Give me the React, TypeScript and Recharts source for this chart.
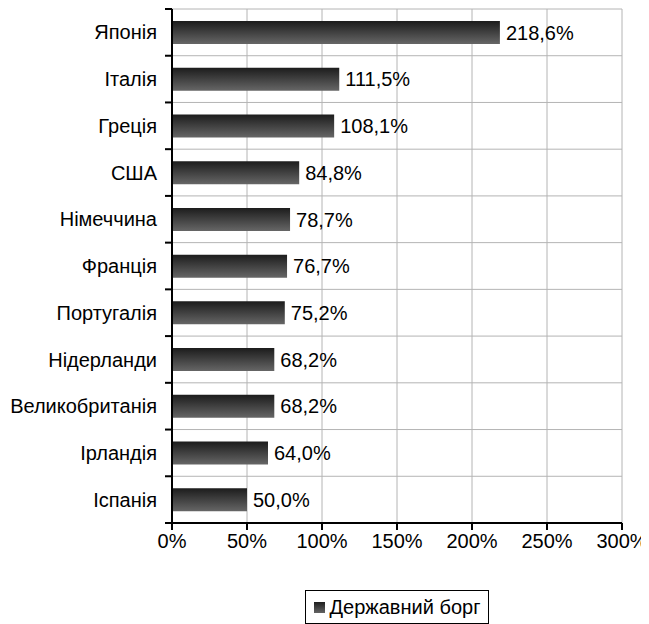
import React from 'react';
import { BarChart, Bar, XAxis, YAxis, CartesianGrid, LabelList, Legend } from 'recharts';

const countries = ['Японія', 'Італія', 'Греція', 'США', 'Німеччина', 'Франція', 'Португалія', 'Нідерланди', 'Великобританія', 'Ірландія', 'Іспанія'];
const debtValues = [218.6, 111.5, 108.1, 84.8, 78.7, 76.7, 75.2, 68.2, 68.2, 64.0, 50.0];
const xTicks = [0, 50, 100, 150, 200, 250, 300];
const seriesName = 'Державний борг';

const data = countries.map((c, i) => ({ country: c, debt: debtValues[i] }));

const FONT = '"Liberation Sans", Arial, sans-serif';
const fmt = (v: number) => v.toFixed(1).replace('.', ',') + '%';

const CHART_W = 641;
const CHART_H = 616;
const MARGIN = { top: 1, right: 27, bottom: 0, left: 0 };
const X_AXIS_H = 67;
const LEGEND_H = 34;
const PLOT_H = CHART_H - MARGIN.top - MARGIN.bottom - X_AXIS_H - LEGEND_H;
const BAND = PLOT_H / countries.length;
const Y_TICK_SIZE = 6;
const Y_TICK_MARGIN = 9;
const MARK_LEN = 7;

const gridPoints = [...countries, ''].map((_, i) => MARGIN.top + i * BAND);

const CategoryTick = (props: any) => {
  const { x, y, payload, index } = props;
  const axisX = x + Y_TICK_SIZE + Y_TICK_MARGIN;
  const last = index === countries.length - 1;
  return (
    <g>
      <text x={x} y={y} dy="0.355em" textAnchor="end" fill="#000" fontSize={20} fontFamily={FONT}>
        {payload.value}
      </text>
      <line x1={axisX - MARK_LEN} x2={axisX} y1={y - BAND / 2} y2={y - BAND / 2} stroke="#000" strokeWidth={2} />
      {last && (
        <line x1={axisX - MARK_LEN} x2={axisX} y1={y + BAND / 2} y2={y + BAND / 2} stroke="#000" strokeWidth={2} />
      )}
    </g>
  );
};

const LegendBox = () => (
  <div style={{ display: 'flex', justifyContent: 'center' }}>
    <div
      style={{
        border: '1px solid #000',
        height: LEGEND_H,
        display: 'flex',
        alignItems: 'center',
        padding: '0 8px 0 8px',
        fontFamily: FONT,
        fontSize: 20,
        color: '#000',
        background: '#fff',
        boxSizing: 'border-box',
      }}
    >
      <span
        style={{
          display: 'inline-block',
          width: 11,
          height: 11,
          background: 'linear-gradient(#1e1e1e, #646464)',
          marginRight: 5,
        }}
      />
      <span>{seriesName}</span>
    </div>
  </div>
);

export default function App() {
  return (
    <BarChart
      width={CHART_W}
      height={CHART_H}
      data={data}
      layout="vertical"
      margin={MARGIN}
      style={{ fontFamily: FONT }}
    >
      <defs>
        <linearGradient id="barGrad" x1="0" y1="0" x2="0" y2="1">
          <stop offset="0%" stopColor="#1c1c1c" />
          <stop offset="100%" stopColor="#666666" />
        </linearGradient>
      </defs>
      <CartesianGrid stroke="#b4b4b4" strokeWidth={1} horizontalPoints={gridPoints} />
      <XAxis
        type="number"
        domain={[0, 300]}
        ticks={xTicks}
        tickFormatter={(v: number) => `${v}%`}
        height={X_AXIS_H}
        tickSize={7}
        tickMargin={4}
        axisLine={{ stroke: '#000', strokeWidth: 2 }}
        tickLine={{ stroke: '#000', strokeWidth: 2 }}
        tick={{ fill: '#000', fontSize: 20, fontFamily: FONT }}
        interval={0}
      />
      <YAxis
        type="category"
        dataKey="country"
        width={164}
        axisLine={{ stroke: '#000', strokeWidth: 2 }}
        tickLine={false}
        tickSize={Y_TICK_SIZE}
        tickMargin={Y_TICK_MARGIN}
        interval={0}
        tick={(p: any) => <CategoryTick {...p} />}
      />
      <Legend
        verticalAlign="bottom"
        content={() => <LegendBox />}
        wrapperStyle={{ left: 164, width: 450 }}
      />
      <Bar dataKey="debt" name={seriesName} fill="url(#barGrad)" barSize={23} isAnimationActive={false}>
        <LabelList
          dataKey="debt"
          position="right"
          offset={6}
          formatter={(v: number) => fmt(v)}
          style={{ fill: '#000', fontSize: 20, fontFamily: FONT }}
        />
      </Bar>
    </BarChart>
  );
}
